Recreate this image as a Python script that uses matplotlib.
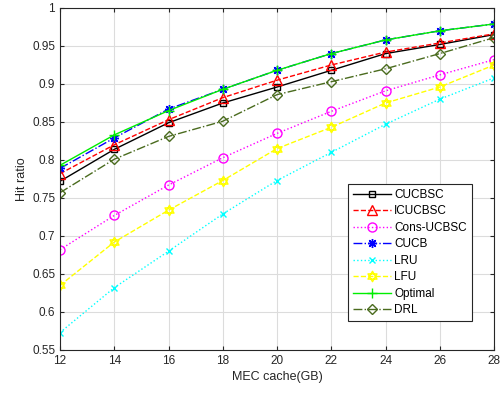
import numpy as np
import matplotlib
matplotlib.use("Agg")
from matplotlib import pyplot as plt
from matplotlib.path import Path
from matplotlib.ticker import FuncFormatter

cache = [12, 14, 16, 18, 20, 22, 24, 26, 28]

cucbsc = [0.772, 0.814, 0.849, 0.875, 0.896, 0.918, 0.940, 0.952, 0.965]
icucbsc = [0.782, 0.820, 0.853, 0.882, 0.905, 0.925, 0.942, 0.954, 0.966]
cons_ucbsc = [0.682, 0.727, 0.767, 0.803, 0.835, 0.864, 0.891, 0.912, 0.932]
cucb = [0.789, 0.829, 0.867, 0.893, 0.918, 0.940, 0.958, 0.970, 0.979]
lru = [0.573, 0.632, 0.680, 0.729, 0.773, 0.810, 0.847, 0.880, 0.908]
lfu = [0.635, 0.692, 0.734, 0.773, 0.815, 0.843, 0.875, 0.896, 0.925]
optimal = [0.793, 0.833, 0.865, 0.893, 0.918, 0.940, 0.958, 0.970, 0.979]
drl = [0.757, 0.801, 0.831, 0.851, 0.886, 0.903, 0.920, 0.940, 0.961]

# six-pointed star (two overlapping triangles) for the LFU curve
def hexagram():
    a_up = np.deg2rad([90, 210, 330])
    a_dn = np.deg2rad([270, 30, 150])
    verts, codes = [], []
    for ang in (a_up, a_dn):
        pts = [(np.cos(t), np.sin(t)) for t in ang]
        verts += pts + [pts[0]]
        codes += [Path.MOVETO, Path.LINETO, Path.LINETO, Path.CLOSEPOLY]
    return Path(verts, codes)

plt.rcParams['font.family'] = ['Liberation Sans', 'DejaVu Sans']
plt.rcParams['font.size'] = 8.5

fig = plt.figure(figsize=(5.01, 3.97), dpi=100)
ax = fig.add_axes([60 / 501, 1 - 350 / 397, 434 / 501, 342 / 397])

series = [
    ('CUCBSC', cucbsc, 'black', '-', 's', 5),
    ('ICUCBSC', icucbsc, 'red', '--', '^', 7),
    ('Cons-UCBSC', cons_ucbsc, 'magenta', ':', 'o', 6.5),
    ('CUCB', cucb, 'blue', '-.', (8, 2, 0), 6.5),
    ('LRU', lru, 'cyan', ':', 'x', 4.5),
    ('LFU', lfu, 'yellow', '--', hexagram(), 7.5),
    ('Optimal', optimal, '#00ee00', '-', '+', 6.5),
    ('DRL', drl, '#4a6b1e', '-.', 'D', 5),
]

for name, vals, col, ls, mk, ms in series:
    ax.plot(cache, vals, color=col, ls=ls, lw=1.0, marker=mk, ms=ms,
            mfc='none', mec=col, mew=1.0, label=name)

ax.set_xlim(12, 28)
ax.set_ylim(0.55, 1.0)
ax.set_xticks(cache)
ax.set_yticks(np.arange(0.55, 1.001, 0.05))
ax.yaxis.set_major_formatter(FuncFormatter(lambda v, p: '%g' % round(v, 2)))
ax.grid(True, color='#dcdcdc', lw=0.8)
ax.set_axisbelow(True)
ax.tick_params(direction='in', top=True, right=True, length=3, colors='#262626')
for sp in ax.spines.values():
    sp.set_color('#262626')
    sp.set_linewidth(0.8)

ax.set_xlabel('MEC cache(GB)', fontsize=9, color='#262626', labelpad=3)
ax.set_ylabel('Hit ratio', fontsize=9, color='#262626', labelpad=3)

leg = ax.legend(loc='lower right', bbox_to_anchor=(0.962, 0.068),
                fancybox=False, edgecolor='#262626', framealpha=1,
                handlelength=3.2, labelspacing=0.38, borderpad=0.4,
                handletextpad=0.3)
leg.get_frame().set_linewidth(0.8)

fig.savefig('out.png', dpi=100)
